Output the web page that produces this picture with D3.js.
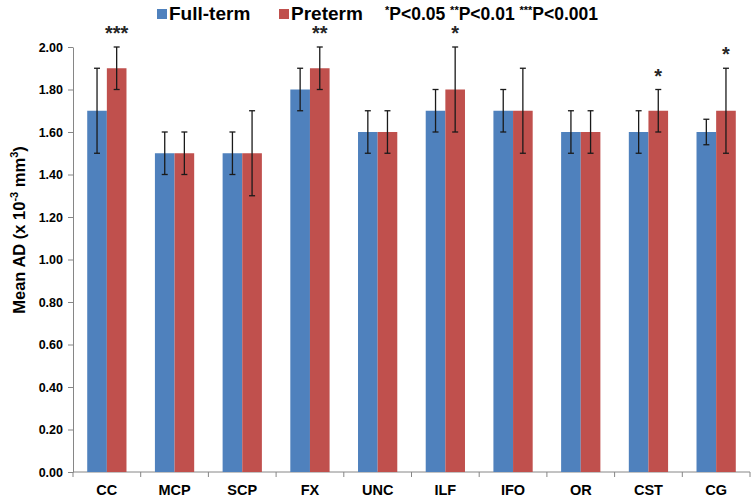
<!DOCTYPE html>
<html><head><meta charset="utf-8">
<script src="https://cdn.jsdelivr.net/npm/d3@7"></script>
<style>body{margin:0;background:#fff;} text{font-family:"Liberation Sans",Arial,sans-serif;font-weight:bold;}</style>
</head><body>
<svg id="c" width="756" height="499"></svg>
<script>
const categories = ["CC","MCP","SCP","FX","UNC","ILF","IFO","OR","CST","CG"];
const fullTerm = [1.7,1.5,1.5,1.8,1.6,1.7,1.7,1.6,1.6,1.6];
const fullTermErr = [0.2,0.1,0.1,0.1,0.1,0.1,0.1,0.1,0.1,0.06];
const preterm = [1.9,1.5,1.5,1.9,1.6,1.8,1.7,1.6,1.7,1.7];
const pretermErr = [0.1,0.1,0.2,0.1,0.1,0.2,0.2,0.1,0.1,0.2];
const significance = ["***","","","**","","*","","","*","*"];
const yTicks = [0,0.2,0.4,0.6,0.8,1.0,1.2,1.4,1.6,1.8,2.0];
const seriesNames = ["Full-term","Preterm"];
const colors = ["#4F81BD","#C0504D"];

const svg = d3.select("#c");
const L = 73, R = 750, T = 47, B = 472;
const x = d3.scaleBand().domain(categories).range([L,R]).paddingInner(0.42).paddingOuter(0.21);
const xs = d3.scaleBand().domain([0,1]).range([0,x.bandwidth()]);
const y = d3.scaleLinear().domain([0,2]).range([B,T]);

// y axis
const ya = svg.append("g").attr("transform",`translate(${L},0)`)
  .call(d3.axisLeft(y).tickValues(yTicks).tickFormat(d3.format(".2f")).tickSize(5).tickSizeOuter(0));
ya.select(".domain").attr("stroke","#868686");
ya.selectAll(".tick line").attr("stroke","#868686");
ya.selectAll("text").attr("font-size",12.5).attr("fill","#000").attr("x",-10);

// x axis
const xTickPos = categories.map((c,i)=>L + i*(R-L)/categories.length).concat([R]);
const xa = svg.append("g").attr("transform",`translate(0,${B})`);
xa.append("line").attr("x1",L).attr("x2",R).attr("y1",0).attr("y2",0).attr("stroke","#868686");
xa.selectAll("line.t").data(xTickPos).enter().append("line").attr("class","t")
  .attr("x1",d=>d).attr("x2",d=>d).attr("y1",0).attr("y2",5).attr("stroke","#868686");
xa.selectAll("text").data(categories).enter().append("text")
  .attr("x",d=>x(d)+x.bandwidth()/2).attr("y",23).attr("text-anchor","middle")
  .attr("font-size",14.5).attr("fill","#000").text(d=>d);

const series = [fullTerm, preterm];
const errs = [fullTermErr, pretermErr];
series.forEach((vals,s)=>{
  const g = svg.append("g");
  g.selectAll("rect").data(categories).enter().append("rect")
    .attr("x",d=>x(d)+xs(s)).attr("width",xs.bandwidth())
    .attr("y",(d,i)=>y(vals[i])).attr("height",(d,i)=>y(0)-y(vals[i]))
    .attr("fill",colors[s]);
  const eg = svg.append("g").attr("stroke","#1a1a1a").attr("stroke-width",1.3);
  categories.forEach((c,i)=>{
    const cx = x(c)+xs(s)+xs.bandwidth()/2;
    const y1 = y(vals[i]+errs[s][i]), y2 = y(vals[i]-errs[s][i]);
    eg.append("line").attr("x1",cx).attr("x2",cx).attr("y1",y1).attr("y2",y2);
    eg.append("line").attr("x1",cx-3).attr("x2",cx+3).attr("y1",y1).attr("y2",y1);
    eg.append("line").attr("x1",cx-3).attr("x2",cx+3).attr("y1",y2).attr("y2",y2);
  });
});

// significance stars
svg.append("g").selectAll("text").data(categories).enter().append("text")
  .attr("x",d=>x(d)+xs(1)+xs.bandwidth()/2)
  .attr("y",(d,i)=>y(preterm[i]+pretermErr[i])-7)
  .attr("text-anchor","middle").attr("font-size",20).attr("fill","#262626")
  .text((d,i)=>significance[i]);

// y title
svg.append("text").attr("transform","translate(25,230) rotate(-90)")
  .attr("text-anchor","middle").attr("font-size",16.5).attr("fill","#000")
  .html('Mean AD (x 10<tspan dy="-7" font-size="11">-3</tspan><tspan dy="7"> mm</tspan><tspan dy="-7" font-size="11">3</tspan><tspan dy="7">)</tspan>');

// legend
const legX = [157,279];
seriesNames.forEach((n,i)=>{
  svg.append("rect").attr("x",legX[i]).attr("y",9).attr("width",10).attr("height",10).attr("fill",colors[i]);
  svg.append("text").attr("x",legX[i]+12).attr("y",20).attr("font-size",19).attr("fill","#000").text(n);
});
svg.append("text").attr("x",385).attr("y",20).attr("font-size",17.5).attr("fill","#000")
  .html('<tspan font-size="11" dy="-6">*</tspan><tspan dy="6">P&lt;0.05 </tspan><tspan font-size="11" dy="-6">**</tspan><tspan dy="6">P&lt;0.01 </tspan><tspan font-size="11" dy="-6">***</tspan><tspan dy="6">P&lt;0.001</tspan>');
</script>
</body></html>
